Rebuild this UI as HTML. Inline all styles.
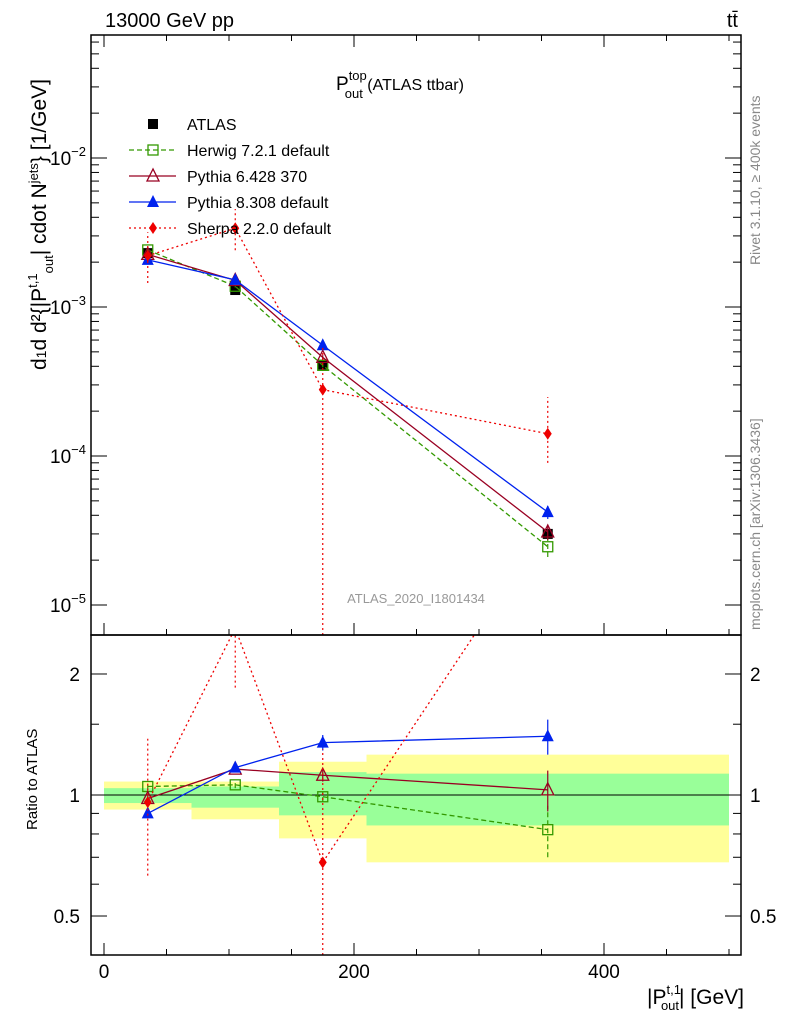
<!DOCTYPE html>
<html><head><meta charset="utf-8"><style>
html,body{margin:0;padding:0;background:#fff;width:786px;height:1024px;overflow:hidden}
svg{display:block}
svg text{font-family:"Liberation Sans",sans-serif}
</style></head><body>
<svg id="c" width="786" height="1024" xmlns="http://www.w3.org/2000/svg">
<defs>
<clipPath id="cm"><rect x="91" y="35" width="650" height="600"/></clipPath>
<clipPath id="cr"><rect x="91" y="635" width="650" height="320"/></clipPath>
</defs>
<g id="bands" clip-path="url(#cr)"></g>
<g id="marks"></g>
<rect x="91" y="35" width="650" height="600" fill="none" stroke="#000" stroke-width="1.5"/>
<rect x="91" y="635" width="650" height="320" fill="none" stroke="#000" stroke-width="1.5"/>
<g id="axes"></g>
<text x="105" y="27" font-size="20">13000 GeV pp</text>
<text x="738" y="27" font-size="20" text-anchor="end">tt̄</text>
<text x="336" y="90" font-size="19">P<tspan font-size="13" dy="-10">top</tspan><tspan font-size="13" dx="-22" dy="18">out</tspan><tspan font-size="16" dy="-8"> (ATLAS ttbar)</tspan></text>
<text x="416" y="603" font-size="13" fill="#999" text-anchor="middle">ATLAS_2020_I1801434</text>
<text transform="translate(760,265) rotate(-90)" font-size="14" fill="#888" text-anchor="start">Rivet 3.1.10, ≥ 400k events</text>
<text transform="translate(760,630) rotate(-90)" font-size="14" fill="#888">mcplots.cern.ch [arXiv:1306.3436]</text>
<text transform="translate(46,370) rotate(-90)" font-size="21">d<tspan font-size="14">1</tspan>d  d²{|P<tspan font-size="13" dy="-9">t,1</tspan><tspan font-size="13" dy="16">out</tspan><tspan dy="-7">| cdot N</tspan><tspan font-size="13" dy="-8">jets</tspan><tspan dy="8">} [1/GeV]</tspan></text>
<text transform="translate(37,830) rotate(-90)" font-size="15">Ratio to ATLAS</text>
<text x="744" y="1004" font-size="21" text-anchor="end">|P<tspan font-size="13" dy="-10">t,1</tspan><tspan font-size="13" dx="-20" dy="16">out</tspan><tspan dy="-6">| [GeV]</tspan></text>
<g id="legend"></g>
</svg>
<script>
const xs=[35,105,175,355];
const binEdges=[0,70,140,210,500];
const atlas=[2.3e-3,1.3e-3,4.1e-4,3.0e-5];
const herwigR=[1.05,1.06,0.99,0.82];
const pythia6R=[0.98,1.16,1.12,1.03];
const pythia8R=[0.9,1.17,1.35,1.40];
const sherpaR=[0.96,2.6,0.68,4.7];
const herwigErr=[0.02,0.02,0.03,0.12];
const pythia6Err=[0.02,0.02,0.04,0.12];
const pythia8Err=[0.02,0.03,0.06,0.14];
const sherpaLo=[0.63,1.85,0.01,3.0];
const sherpaHi=[1.38,3.5,1.3,8.3];
const yelLo=[0.92,0.87,0.78,0.68],yelHi=[1.08,1.08,1.21,1.26];
const grnLo=[0.955,0.93,0.89,0.84],grnHi=[1.04,1.05,1.14,1.13];
const xTicks=[0,200,400];
const mainTicks=[-5,-4,-3,-2];
const ratioTicks=[0.5,1,2];

const X=v=>104+v*1.25;
const YM=v=>307-149*Math.log10(v/1e-3);
const YR=r=>795-402*Math.log10(r);
const clampM=y=>Math.min(Math.max(y,35),635);
const clampR=y=>Math.min(Math.max(y,635),955);
const NS="http://www.w3.org/2000/svg";
function el(p,t,a){const e=document.createElementNS(NS,t);for(const k in a)e.setAttribute(k,a[k]);p.appendChild(e);return e;}
const bands=document.getElementById('bands'),marks=document.getElementById('marks'),axes=document.getElementById('axes'),leg=document.getElementById('legend');
for(let i=0;i<4;i++){
 let r=el(bands,'rect',{x:X(binEdges[i]),y:YR(yelHi[i]),width:X(binEdges[i+1])-X(binEdges[i]),height:YR(yelLo[i])-YR(yelHi[i]),fill:'#ffff99'});
 
 let g=el(bands,'rect',{x:X(binEdges[i]),y:YR(grnHi[i]),width:X(binEdges[i+1])-X(binEdges[i]),height:YR(grnLo[i])-YR(grnHi[i]),fill:'#99ff99'});
 
}
el(bands,'line',{x1:91,x2:741,y1:YR(1),y2:YR(1),stroke:'#000','stroke-width':1});
function marker(p,type,x,y,col){
 let m;
 if(type==='sq') m=el(p,'rect',{x:x-5,y:y-5,width:10,height:10,fill:'#000'});
 else if(type==='osq') m=el(p,'rect',{x:x-5,y:y-5,width:10,height:10,fill:'none',stroke:col,'stroke-width':1.3});
 else if(type==='otri') m=el(p,'polygon',{points:`${x},${y-7} ${x-6},${y+5} ${x+6},${y+5}`,fill:'none',stroke:col,'stroke-width':1.3});
 else if(type==='tri') m=el(p,'polygon',{points:`${x},${y-7} ${x-6},${y+5} ${x+6},${y+5}`,fill:col});
 else m=el(p,'polygon',{points:`${x},${y-6} ${x-4},${y} ${x},${y+6} ${x+4},${y}`,fill:col});
 return m;
}
const series=[
 {n:'herwig',r:herwigR,lo:herwigR.map((v,i)=>v-herwigErr[i]),hi:herwigR.map((v,i)=>v+herwigErr[i]),c:'#339900',d:'5,3',t:'osq',lab:'Herwig 7.2.1 default'},
 {n:'pythia6',r:pythia6R,lo:pythia6R.map((v,i)=>v-pythia6Err[i]),hi:pythia6R.map((v,i)=>v+pythia6Err[i]),c:'#990022',d:'',t:'otri',lab:'Pythia 6.428 370'},
 {n:'pythia8',r:pythia8R,lo:pythia8R.map((v,i)=>v-pythia8Err[i]),hi:pythia8R.map((v,i)=>v+pythia8Err[i]),c:'#0022ee',d:'',t:'tri',lab:'Pythia 8.308 default'},
 {n:'sherpa',r:sherpaR,lo:sherpaLo,hi:sherpaHi,c:'#ee0000',d:'2,3',t:'dia',lab:'Sherpa 2.2.0 default'}
];
const gm=el(marks,'g',{'clip-path':'url(#cm)'}),gr=el(marks,'g',{'clip-path':'url(#cr)'});
for(let i=0;i<4;i++){
 let m=marker(gm,'sq',X(xs[i]),YM(atlas[i]));
}
series.forEach(s=>{
 const ptsM=xs.map((x,i)=>X(x)+','+YM(s.r[i]*atlas[i])).join(' ');
 const ptsR=xs.map((x,i)=>X(x)+','+YR(s.r[i])).join(' ');
 let l1=el(gm,'polyline',{points:ptsM,fill:'none',stroke:s.c,'stroke-width':1.3,'stroke-dasharray':s.d});
 
 let l2=el(gr,'polyline',{points:ptsR,fill:'none',stroke:s.c,'stroke-width':1.3,'stroke-dasharray':s.d});
 
 for(let i=0;i<4;i++){
  const x=X(xs[i]);
  el(gm,'line',{x1:x,x2:x,y1:clampM(YM(s.lo[i]*atlas[i])),y2:clampM(YM(s.hi[i]*atlas[i])),stroke:s.c,'stroke-width':1.2,'stroke-dasharray':s.d});
  el(gr,'line',{x1:x,x2:x,y1:clampR(YR(s.lo[i])),y2:clampR(YR(s.hi[i])),stroke:s.c,'stroke-width':1.2,'stroke-dasharray':s.d});
  let m1=marker(gm,s.t,x,YM(s.r[i]*atlas[i]),s.c);
  let m2=marker(gr,s.t,x,YR(s.r[i]),s.c);
 }
});
const ly=[124,150,176,202,228];
marker(leg,'sq',153,ly[0],'#000');
let t=el(leg,'text',{x:187,y:ly[0]+6,'font-size':16});t.textContent='ATLAS';

series.forEach((s,k)=>{
 const y=ly[k+1];
 el(leg,'line',{x1:129,x2:176,y1:y,y2:y,stroke:s.c,'stroke-width':1.3,'stroke-dasharray':s.d});
 marker(leg,s.t,153,y,s.c);
 let tt=el(leg,'text',{x:187,y:y+6,'font-size':16});tt.textContent=s.lab;
 
});
xTicks.forEach(v=>{
 el(axes,'line',{x1:X(v),x2:X(v),y1:955,y2:943,stroke:'#000'});
 el(axes,'line',{x1:X(v),x2:X(v),y1:635,y2:623,stroke:'#000'});
 el(axes,'line',{x1:X(v),x2:X(v),y1:35,y2:47,stroke:'#000'});
 let tx=el(axes,'text',{x:X(v),y:978,'font-size':19,'text-anchor':'middle'});tx.textContent=v;
 
});
for(let v=50;v<=700;v+=50){if(v%200===0)continue;const x=X(v);if(x>741)break;
 el(axes,'line',{x1:x,x2:x,y1:955,y2:949,stroke:'#000'});el(axes,'line',{x1:x,x2:x,y1:35,y2:41,stroke:'#000'});el(axes,'line',{x1:x,x2:x,y1:635,y2:629,stroke:'#000'});}
mainTicks.forEach(p=>{
 const y=YM(Math.pow(10,p));
 el(axes,'line',{x1:91,x2:107,y1:y,y2:y,stroke:'#000'});el(axes,'line',{x1:741,x2:725,y1:y,y2:y,stroke:'#000'});
 let tx=el(axes,'text',{x:86,y:y+7,'font-size':19,'text-anchor':'end'});
 tx.innerHTML='10<tspan font-size="13" dy="-9">'+(p<0?'−'+(-p):p)+'</tspan>';
 
 for(let m=2;m<10;m++){const yy=YM(m*Math.pow(10,p));if(yy<35)continue;
  el(axes,'line',{x1:91,x2:99,y1:yy,y2:yy,stroke:'#000'});el(axes,'line',{x1:741,x2:733,y1:yy,y2:yy,stroke:'#000'});}
});
ratioTicks.forEach(r=>{
 const y=YR(r);
 el(axes,'line',{x1:91,x2:107,y1:y,y2:y,stroke:'#000'});el(axes,'line',{x1:741,x2:725,y1:y,y2:y,stroke:'#000'});
 let a=el(axes,'text',{x:80,y:y+7,'font-size':19,'text-anchor':'end'});a.textContent=r;
 
 let b=el(axes,'text',{x:750,y:y+7,'font-size':19});b.textContent=r;
 
});
[0.6,0.7,0.8,0.9,1.5].forEach(r=>{const y=YR(r);
 el(axes,'line',{x1:91,x2:99,y1:y,y2:y,stroke:'#000'});el(axes,'line',{x1:741,x2:733,y1:y,y2:y,stroke:'#000'});});
</script>
</body></html>
